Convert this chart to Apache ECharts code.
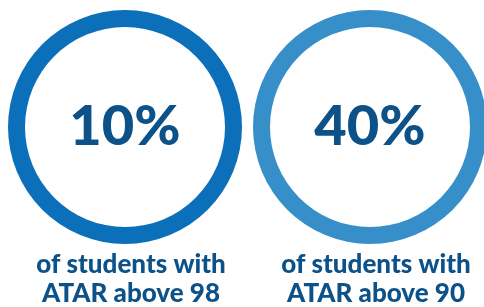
<!DOCTYPE html>
<html>
<head>
<meta charset="utf-8">
<script src="https://cdn.jsdelivr.net/npm/echarts@6/dist/echarts.min.js"></script>
<style>
  html, body { margin: 0; padding: 0; background: #fff; }
  #main { width: 484px; height: 307px; }
</style>
</head>
<body>
<div id="main"></div>
<script>
// values
var percents = [10, 40];
var line1 = ['of students with', 'of students with'];
var line2 = ['ATAR above 98', 'ATAR above 90'];
var ringColors = ['#0b70b9', '#368fc8'];

var centersX = [125, 370];
var textColor = '#0d5189';

var chart = echarts.init(document.getElementById('main'));

var series = percents.map(function (p, i) {
  return {
    type: 'pie',
    center: [centersX[i], 127],
    radius: [100, 117],
    silent: true,
    startAngle: 90,
    label: {
      show: true,
      position: 'center',
      formatter: function () { return p + '%'; },
      fontFamily: 'Lato',
      fontWeight: 900,
      fontSize: 56,
      padding: [14, 0, 0, 0],
      color: textColor
    },
    labelLine: { show: false },
    itemStyle: { color: ringColors[i] },
    data: [{ value: p, name: line2[i] }]
  };
});

var titles = [];
percents.forEach(function (p, i) {
  titles.push({
    text: line1[i] + '\n' + line2[i],
    left: centersX[i] + 1,
    top: 245,
    textAlign: 'center',
    textStyle: {
      fontFamily: 'Lato',
      fontWeight: 900,
      fontSize: 26,
      lineHeight: 29,
      color: textColor
    }
  });
});

chart.setOption({
  animation: false,
  title: titles,
  series: series
});
</script>
</body>
</html>
